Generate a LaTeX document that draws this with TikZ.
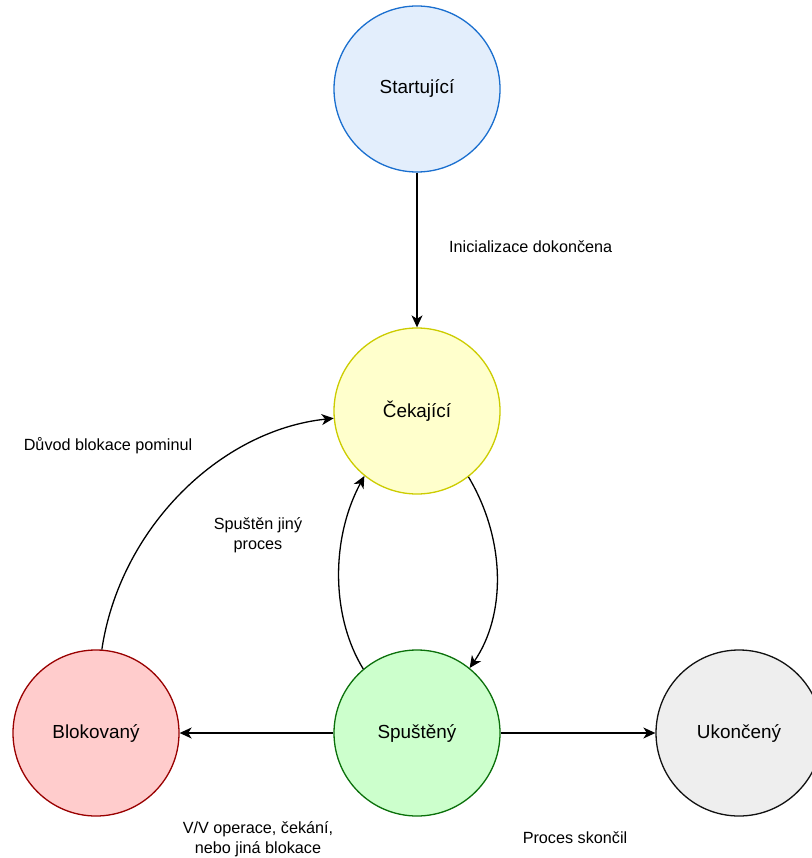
\documentclass[tikz,border=0pt]{standalone}
\usepackage{fontspec}
\setmainfont{Liberation Sans}
\usetikzlibrary{arrows.meta}
\definecolor{bluefill}{HTML}{E3EEFC}
\definecolor{bluedraw}{HTML}{1A6FCF}
\definecolor{yelfill}{HTML}{FFFFCC}
\definecolor{yeldraw}{HTML}{CCCC00}
\definecolor{grnfill}{HTML}{CCFFCC}
\definecolor{grndraw}{HTML}{0A700A}
\definecolor{redfill}{HTML}{FFCCCC}
\definecolor{reddraw}{HTML}{990000}
\definecolor{gryfill}{HTML}{EEEEEE}
\definecolor{grydraw}{HTML}{111111}
\tikzset{
  state/.style={circle, minimum size=166pt, inner sep=0pt, line width=1.3pt,
    font=\fontsize{18.9}{22}\selectfont},
  arr/.style={line width=1.3pt, -{Stealth[length=12pt,width=11pt,inset=3.5pt]}},
  lbl/.style={font=\fontsize{16.2}{20}\selectfont, align=center, inner sep=0pt}
}
\begin{document}
\begin{tikzpicture}[x=1pt,y=-1pt]
\useasboundingbox (0,0) rectangle (811,858);
\node[state, fill=bluefill, draw=bluedraw] (start) at (417,89) {Startující};
\node[state, fill=yelfill, draw=yeldraw] (cek) at (417,411) {Čekající};
\node[state, fill=grnfill, draw=grndraw] (spu) at (417,733) {Spuštěný};
\node[state, fill=redfill, draw=reddraw] (blk) at (96,733) {Blokovaný};
\node[state, fill=gryfill, draw=grydraw] (uko) at (739,733) {Ukončený};

\draw[arr] (start) -- (cek);
\draw[arr] (blk.86) .. controls +(18,-121) and +(-114,12) .. (cek.185);
\draw[arr] (cek.-52) .. controls +(38,64) and +(36,-52) .. (spu.51);
\draw[arr] (spu.130) .. controls +(-32,-52) and +(-34,63) .. (cek.231);
\draw[arr] (spu) -- (blk);
\draw[arr] (spu) -- (uko);

\node[lbl, anchor=west] (l1) at (449,247) {Inicializace dokončena};
\node[lbl] (l2) at (108,446) {Důvod blokace pominul};
\node[lbl] (l3) at (258,535) {Spuštěn jiný\\proces};
\node[lbl] (l4) at (258,839) {V/V operace, čekání,\\nebo jiná blokace};
\node[lbl] (l5) at (575,838) {Proces skončil};
\end{tikzpicture}
\end{document}
